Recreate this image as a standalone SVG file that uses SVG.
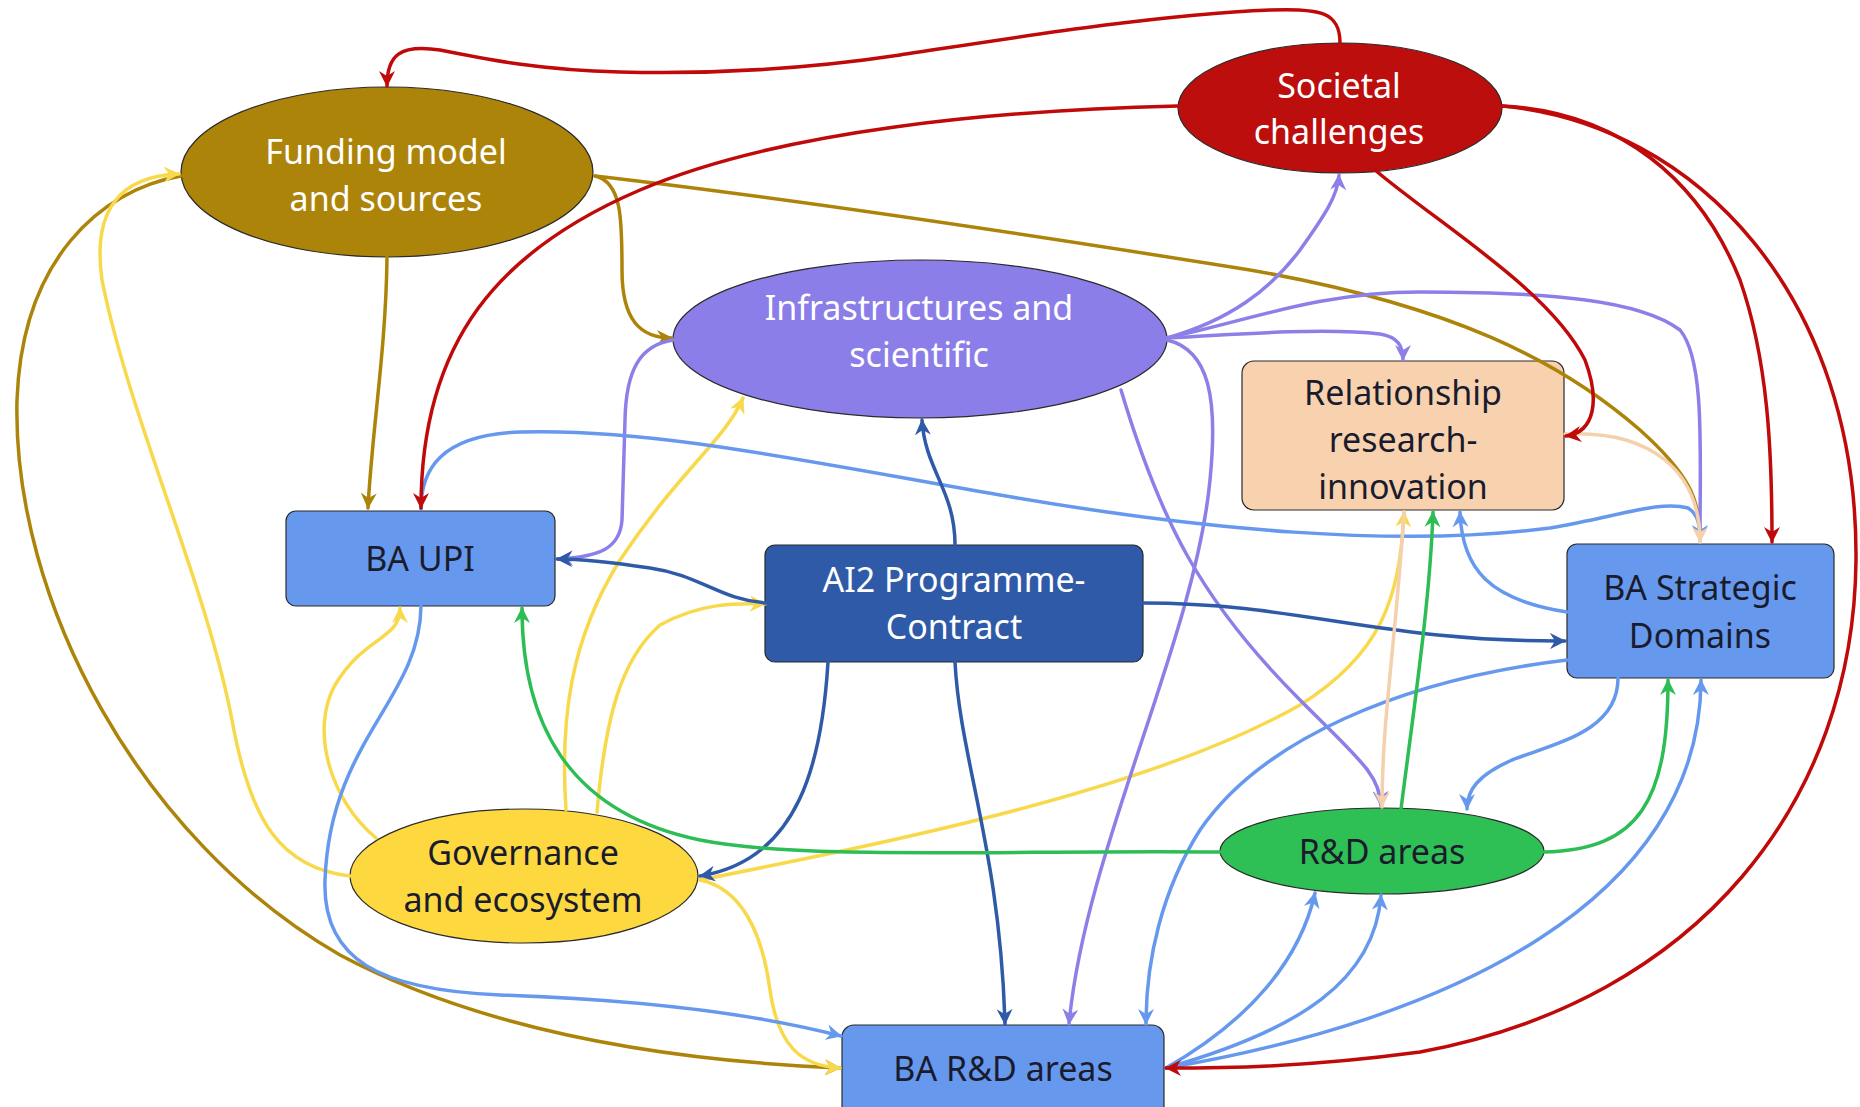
<svg xmlns="http://www.w3.org/2000/svg" width="1860" height="1107" viewBox="0 0 1860 1107">
<style>
.c{fill:none;stroke-width:3.5;stroke-linecap:round}
.red{stroke:#c00a0a}.gold{stroke:#ad840a}.yel{stroke:#f9d94c}.lav{stroke:#8c80e8}.dbl{stroke:#2f5aa8}.grn{stroke:#2dbd55}.pch{stroke:#f4d0ac}.blu{stroke:#6699ee}
.n{stroke:#2a2a2a;stroke-width:1.2}
.t{font-family:"Noto Sans","Open Sans","DejaVu Sans",sans-serif;font-size:34px;text-anchor:middle}
.w{fill:#ffffff}.k{fill:#1a1c2e}
</style>
<defs>
<marker id="mRed" viewBox="0 0 16 16" markerWidth="16" markerHeight="16" refX="15" refY="8" orient="auto" markerUnits="userSpaceOnUse"><path d="M0,0 L16,8 L0,16 L5,8 Z" fill="#c00a0a"/></marker>
<marker id="mGold" viewBox="0 0 16 16" markerWidth="16" markerHeight="16" refX="15" refY="8" orient="auto" markerUnits="userSpaceOnUse"><path d="M0,0 L16,8 L0,16 L5,8 Z" fill="#ad840a"/></marker>
<marker id="mYel" viewBox="0 0 16 16" markerWidth="16" markerHeight="16" refX="15" refY="8" orient="auto" markerUnits="userSpaceOnUse"><path d="M0,0 L16,8 L0,16 L5,8 Z" fill="#f9d94c"/></marker>
<marker id="mLav" viewBox="0 0 16 16" markerWidth="16" markerHeight="16" refX="15" refY="8" orient="auto" markerUnits="userSpaceOnUse"><path d="M0,0 L16,8 L0,16 L5,8 Z" fill="#8c80e8"/></marker>
<marker id="mDbl" viewBox="0 0 16 16" markerWidth="16" markerHeight="16" refX="15" refY="8" orient="auto" markerUnits="userSpaceOnUse"><path d="M0,0 L16,8 L0,16 L5,8 Z" fill="#2f5aa8"/></marker>
<marker id="mGrn" viewBox="0 0 16 16" markerWidth="16" markerHeight="16" refX="15" refY="8" orient="auto" markerUnits="userSpaceOnUse"><path d="M0,0 L16,8 L0,16 L5,8 Z" fill="#2dbd55"/></marker>
<marker id="mPch" viewBox="0 0 16 16" markerWidth="16" markerHeight="16" refX="15" refY="8" orient="auto" markerUnits="userSpaceOnUse"><path d="M0,0 L16,8 L0,16 L5,8 Z" fill="#f4d0ac"/></marker>
<marker id="mBlu" viewBox="0 0 16 16" markerWidth="16" markerHeight="16" refX="15" refY="8" orient="auto" markerUnits="userSpaceOnUse"><path d="M0,0 L16,8 L0,16 L5,8 Z" fill="#6699ee"/></marker>
</defs>
<rect width="1860" height="1107" fill="#ffffff"/>

<g id="nodes">
<g id="funding"><ellipse class="n" cx="387" cy="172" rx="206" ry="85" fill="#ad840a"/><text class="t w" x="386" y="164">Funding model</text><text class="t w" x="386" y="211">and sources</text></g>
<g id="societal"><ellipse class="n" cx="1340" cy="108" rx="162" ry="65" fill="#bd0e0e"/><text class="t w" x="1339" y="98">Societal</text><text class="t w" x="1339" y="144">challenges</text></g>
<g id="infra"><ellipse class="n" cx="920" cy="339" rx="247" ry="79" fill="#8b7ee9"/><text class="t w" x="919" y="320">Infrastructures and</text><text class="t w" x="919" y="367">scientific</text></g>
<g id="relationship"><rect class="n" x="1242" y="361" width="322" height="149" rx="12" fill="#f8d2ae"/><text class="t k" x="1403" y="405">Relationship</text><text class="t k" x="1403" y="452">research-</text><text class="t k" x="1403" y="499">innovation</text></g>
<g id="baupi"><rect class="n" x="286" y="511" width="269" height="95" rx="10" fill="#6699ee"/><text class="t k" x="420" y="571">BA UPI</text></g>
<g id="ai2"><rect class="n" x="765" y="545" width="378" height="117" rx="10" fill="#2f5aa8"/><text class="t w" x="954" y="592">AI2 Programme-</text><text class="t w" x="954" y="639">Contract</text></g>
<g id="bastrategic"><rect class="n" x="1567" y="544" width="267" height="134" rx="10" fill="#6699ee"/><text class="t k" x="1700" y="600">BA Strategic</text><text class="t k" x="1700" y="648">Domains</text></g>
<g id="governance"><ellipse class="n" cx="524" cy="876" rx="174" ry="67" fill="#fdd83f"/><text class="t k" x="523" y="865">Governance</text><text class="t k" x="523" y="912">and ecosystem</text></g>
<g id="rdareas"><ellipse class="n" cx="1382" cy="851" rx="162" ry="43" fill="#2fc055"/><text class="t k" x="1382" y="864">R&amp;D areas</text></g>
<g id="bardareas"><rect class="n" x="842" y="1025" width="322" height="100" rx="12" fill="#6699ee"/><text class="t k" x="1003" y="1081">BA R&amp;D areas</text></g>
</g>

<g id="connectors">
<path class="c gold" marker-end="url(#mGold)" d="M387,257 C386,350 372,430 368,508"/>
<path class="c gold" marker-end="url(#mGold)" d="M595,176 C622,182 622,220 622,270 C622,320 640,338 672,338"/>
<path class="c gold" d="M595,176 C760,195 1000,230 1250,270 C1450,305 1560,360 1640,430 C1690,475 1700,500 1700,538"/>
<path class="c gold" marker-end="url(#mGold)" d="M181,176 C100,190 22,260 17,400 C12,600 140,840 340,955 C500,1040 700,1062 840,1068"/>

<path class="c yel" marker-end="url(#mYel)" d="M350,876 C280,868 250,820 232,720 C205,580 130,420 102,280 C92,210 120,176 179,174"/>
<path class="c yel" marker-end="url(#mYel)" d="M376,838 C330,800 310,730 335,685 C365,635 400,640 400,608"/>
<path class="c yel" marker-end="url(#mYel)" d="M566,810 C560,720 570,640 620,560 C680,470 725,440 743,398"/>
<path class="c yel" marker-end="url(#mYel)" d="M597,812 C605,720 620,660 660,625 C700,603 735,603 765,604"/>
<path class="c yel" marker-end="url(#mYel)" d="M700,880 C900,840 1150,790 1300,705 C1380,655 1400,600 1404,512"/>
<path class="c yel" marker-end="url(#mYel)" d="M700,880 C740,888 762,930 770,990 C778,1045 800,1066 840,1068"/>

<path class="c lav" marker-end="url(#mLav)" d="M673,340 C640,345 626,370 625,420 L622,520 C620,548 600,557 558,559"/>
<path class="c lav" marker-end="url(#mLav)" d="M1167,338 C1230,320 1270,290 1300,250 C1325,215 1338,195 1339,175"/>
<path class="c lav" marker-end="url(#mLav)" d="M1167,338 C1250,333 1330,328 1380,334 C1398,337 1403,346 1403,360"/>
<path class="c lav" d="M1167,338 C1250,320 1320,292 1420,292 C1550,292 1640,300 1680,330 C1705,360 1700,450 1700,538"/>
<path class="c lav" marker-end="url(#mLav)" d="M1167,340 C1210,350 1218,400 1210,480 C1195,640 1085,850 1069,1024"/>
<path class="c lav" marker-end="url(#mLav)" d="M1121,390 C1160,520 1200,600 1300,700 C1360,760 1380,775 1381,806"/>

<path class="c blu" marker-end="url(#mBlu)" d="M421,509 C421,470 440,435 520,432 C650,428 800,460 1000,495 C1200,530 1400,548 1550,528 C1620,516 1660,500 1688,508 C1698,514 1700,525 1700,540"/>
<path class="c blu" marker-end="url(#mBlu)" d="M1567,612 C1490,600 1462,570 1460,512"/>
<path class="c blu" marker-end="url(#mBlu)" d="M1618,678 C1618,730 1560,742 1512,760 C1478,775 1467,790 1467,809"/>
<path class="c blu" marker-end="url(#mBlu)" d="M1567,660 C1400,680 1262,740 1200,830 C1162,890 1146,960 1146,1024"/>
<path class="c blu" marker-end="url(#mBlu)" d="M1166,1068 C1250,1020 1300,960 1315,893"/>
<path class="c blu" marker-end="url(#mBlu)" d="M1166,1068 C1300,1030 1375,980 1381,895"/>
<path class="c blu" marker-end="url(#mBlu)" d="M1166,1068 C1450,1020 1700,900 1701,680"/>
<path class="c blu" marker-end="url(#mBlu)" d="M421,606 C420,700 330,740 325,880 C322,960 380,990 500,995 C650,1000 760,1015 841,1036"/>

<path class="c dbl" marker-end="url(#mDbl)" d="M766,603 C720,600 700,575 650,568 C610,562 585,559 557,559"/>
<path class="c dbl" marker-end="url(#mDbl)" d="M955,545 C955,490 925,470 922,420"/>
<path class="c dbl" marker-end="url(#mDbl)" d="M1143,603 C1300,603 1380,642 1565,641"/>
<path class="c dbl" marker-end="url(#mDbl)" d="M828,662 C822,760 800,860 700,876"/>
<path class="c dbl" marker-end="url(#mDbl)" d="M955,662 C960,760 1000,850 1005,1024"/>

<path class="c grn" marker-end="url(#mGrn)" d="M1220,852 C1000,850 800,860 700,840 C565,812 522,720 522,608"/>
<path class="c grn" marker-end="url(#mGrn)" d="M1544,852 C1640,850 1668,800 1668,680"/>
<path class="c grn" marker-end="url(#mGrn)" d="M1401,809 C1415,700 1430,600 1433,512"/>

<path class="c pch" marker-end="url(#mPch)" d="M1404,512 C1395,650 1382,720 1382,807"/>
<path class="c pch" marker-end="url(#mPch)" d="M1565,434 C1650,430 1700,470 1700,542"/>

<path class="c red" marker-end="url(#mRed)" d="M1340,43 C1340,12 1320,8 1270,10 C1150,15 1000,40 900,55 C800,70 700,74 620,72 C540,70 490,60 440,50 C400,44 387,55 387,86"/>
<path class="c red" marker-end="url(#mRed)" d="M1178,106 C1000,110 780,130 640,190 C500,250 421,340 421,508"/>
<path class="c red" marker-end="url(#mRed)" d="M1502,106 C1620,112 1700,180 1740,280 C1768,360 1772,450 1772,542"/>
<path class="c red" marker-end="url(#mRed)" d="M1502,106 C1700,125 1858,300 1856,560 C1854,800 1700,1000 1420,1052 C1300,1068 1220,1068 1166,1068"/>
<path class="c red" marker-end="url(#mRed)" d="M1375,170 C1440,225 1550,290 1585,360 C1600,400 1595,432 1566,436"/>
</g>
</svg>
